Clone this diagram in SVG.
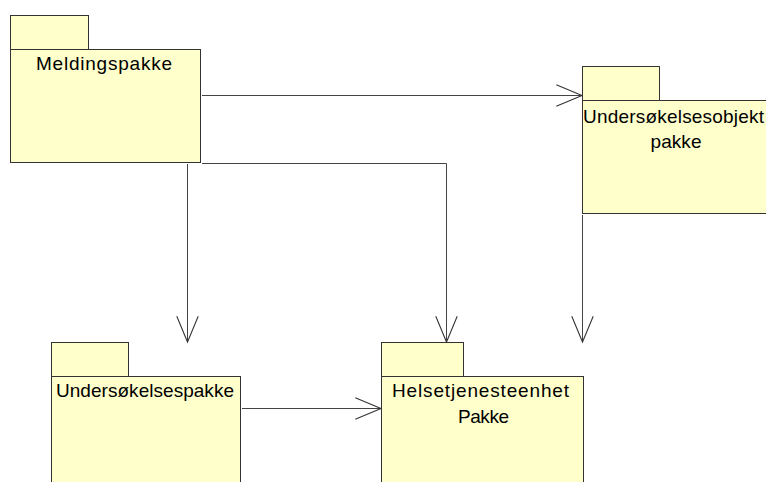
<svg xmlns="http://www.w3.org/2000/svg" width="766" height="482" viewBox="0 0 766 482">
  <style>
    .pk { fill: #FFFFCC; stroke: #333333; stroke-width: 1; }
    .lbl { font-family: "Liberation Sans", Arial, sans-serif; font-size: 19px; fill: #000000; text-anchor: middle; }
    .dep { fill: none; stroke: #444444; stroke-width: 1; marker-end: url(#open); }
  </style>
  <defs>
    <marker id="open" markerUnits="userSpaceOnUse" markerWidth="30" markerHeight="30" viewBox="-26 -12 28 24" refX="0" refY="0" orient="auto">
      <path d="M -24 -10 L 0 0 L -24 10" fill="none" stroke="#333333" stroke-width="1"/>
    </marker>
  </defs>
  <rect width="766" height="482" fill="#FFFFFF"/>
  <g id="connectors">
    <path class="dep" d="M 202 95.5 H 582"/>
    <path class="dep" d="M 202 163.5 H 446.5 V 342"/>
    <path class="dep" d="M 187.5 164 V 342"/>
    <path class="dep" d="M 582.5 215 V 342"/>
    <path class="dep" d="M 242 408.5 H 381"/>
  </g>
  <g id="meldingspakke">
    <rect class="pk" x="10.5" y="15.5" width="78" height="34"/>
    <rect class="pk" x="10.5" y="49.5" width="190" height="113"/>
    <text class="lbl" x="104" y="70" textLength="136" lengthAdjust="spacing">Meldingspakke</text>
  </g>
  <g id="undersokelsesobjektpakke">
    <rect class="pk" x="582.5" y="66.5" width="77" height="34"/>
    <rect class="pk" x="582.5" y="100.5" width="190" height="113"/>
    <text class="lbl" x="673.5" y="123" textLength="181" lengthAdjust="spacing">Undersøkelsesobjekt</text>
    <text class="lbl" x="676" y="148" textLength="51" lengthAdjust="spacing">pakke</text>
  </g>
  <g id="undersokelsespakke">
    <rect class="pk" x="51.5" y="342.5" width="77" height="34"/>
    <rect class="pk" x="51.5" y="376.5" width="189" height="120"/>
    <text class="lbl" x="145" y="397" textLength="178" lengthAdjust="spacing">Undersøkelsespakke</text>
  </g>
  <g id="helsetjenesteenhetpakke">
    <rect class="pk" x="381.5" y="342.5" width="82" height="34"/>
    <rect class="pk" x="381.5" y="376.5" width="202" height="120"/>
    <text class="lbl" x="480.5" y="397" textLength="177" lengthAdjust="spacing">Helsetjenesteenhet</text>
    <text class="lbl" x="483.5" y="423" textLength="51" lengthAdjust="spacing">Pakke</text>
  </g>
</svg>
